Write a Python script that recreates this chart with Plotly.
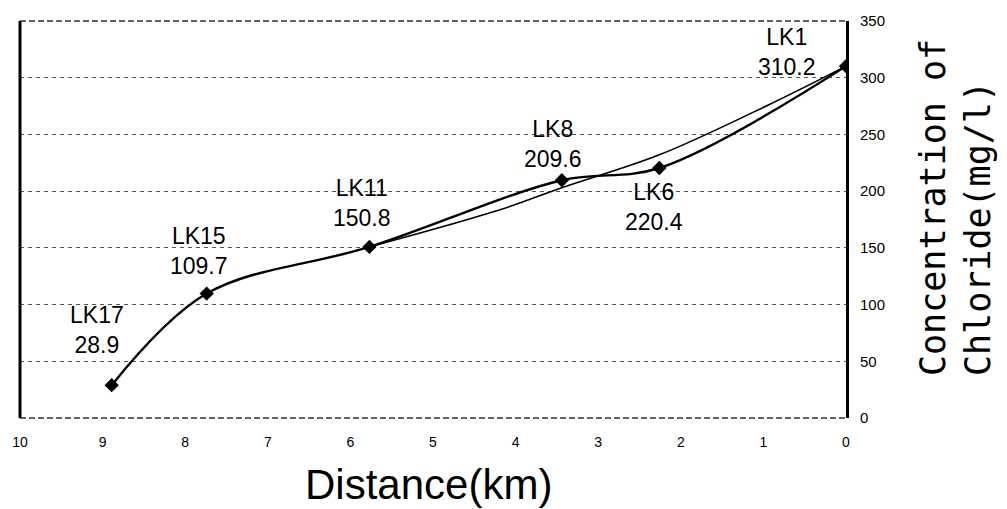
import plotly.graph_objects as go

# ---- data ----
stations = ["LK17", "LK15", "LK11", "LK8", "LK6", "LK1"]
distance_km = [8.89, 7.74, 5.77, 3.44, 2.26, 0.0]
chloride = [28.9, 109.7, 150.8, 209.6, 220.4, 310.2]
value_labels = ["28.9", "109.7", "150.8", "209.6", "220.4", "310.2"]

trend_x = [5.77, 4.17, 3.44, 2.26, 0.94, 0.0]
trend_y = [150.8, 184, 203, 232, 276, 310.2]

x_ticks = [10, 9, 8, 7, 6, 5, 4, 3, 2, 1, 0]
y_ticks = [0, 50, 100, 150, 200, 250, 300, 350]

# ---- label placement (pixel offsets, styling only) ----
lab_dx = [-15, -8, -7, -9, -5, -59]
lab_dy = [55, 43, 44, 36, -39, 14]

SANS = "Liberation Sans, Arial, sans-serif"

fig = go.Figure()

fig.add_trace(go.Scatter(
    x=trend_x, y=trend_y, mode="lines",
    line=dict(color="black", width=1.6, shape="spline", smoothing=1.0),
    hoverinfo="skip", showlegend=False))

fig.add_trace(go.Scatter(
    x=distance_km, y=chloride, mode="lines+markers",
    line=dict(color="black", width=2.4, shape="spline", smoothing=1.0),
    marker=dict(symbol="diamond", size=11, color="black"),
    showlegend=False))

for i, name in enumerate(stations):
    fig.add_annotation(x=distance_km[i], y=chloride[i],
                       text=name + "<br>" + value_labels[i],
                       showarrow=False, xshift=lab_dx[i], yshift=lab_dy[i],
                       xanchor="center", yanchor="middle",
                       font=dict(family=SANS, size=23, color="black"))

# axis titles as annotations
fig.add_annotation(xref="paper", yref="paper", x=0.494, y=-0.167,
                   text="Distance(km)", showarrow=False,
                   xanchor="center", yanchor="middle",
                   font=dict(family=SANS, size=42, color="black"))
fig.add_annotation(xref="paper", yref="paper", x=1.133, y=0.531,
                   text="Concentration of<br>Chloride(mg/l)", showarrow=False,
                   textangle=-90, align="left",
                   xanchor="center", yanchor="middle",
                   font=dict(family="DejaVu Sans Mono, monospace", size=35, color="black"))

# frame: solid left border, dashed top and bottom borders
fig.add_shape(type="line", xref="paper", yref="paper", x0=0, x1=0, y0=0, y1=1,
              line=dict(color="black", width=3))
for yb in (0, 1):
    fig.add_shape(type="line", xref="paper", yref="paper", x0=0, x1=1, y0=yb, y1=yb,
                  line=dict(color="#333", width=1.5, dash="6px,3px"), layer="below")

fig.update_layout(
    width=1007, height=509,
    margin=dict(l=18, r=161, t=17, b=91),
    paper_bgcolor="white", plot_bgcolor="white",
    showlegend=False,
    xaxis=dict(range=[10, 0], tickmode="array", tickvals=x_ticks,
               ticktext=[str(t) for t in x_ticks],
               showgrid=False, zeroline=False, showline=False,
               ticks="", ticklabelstandoff=14,
               tickfont=dict(family=SANS, size=14, color="black")),
    yaxis=dict(range=[0, 350], side="right", tickmode="array", tickvals=y_ticks,
               showgrid=True, gridcolor="#555", gridwidth=1, griddash="4px,4px",
               zeroline=False, showline=True, linecolor="black", linewidth=3,
               ticks="", ticklabelstandoff=8,
               tickfont=dict(family=SANS, size=15, color="black")),
)

fig.write_html("out.html",
               config={"displayModeBar": False},
               post_script="document.body.style.margin='0';document.body.style.overflow='hidden';")
